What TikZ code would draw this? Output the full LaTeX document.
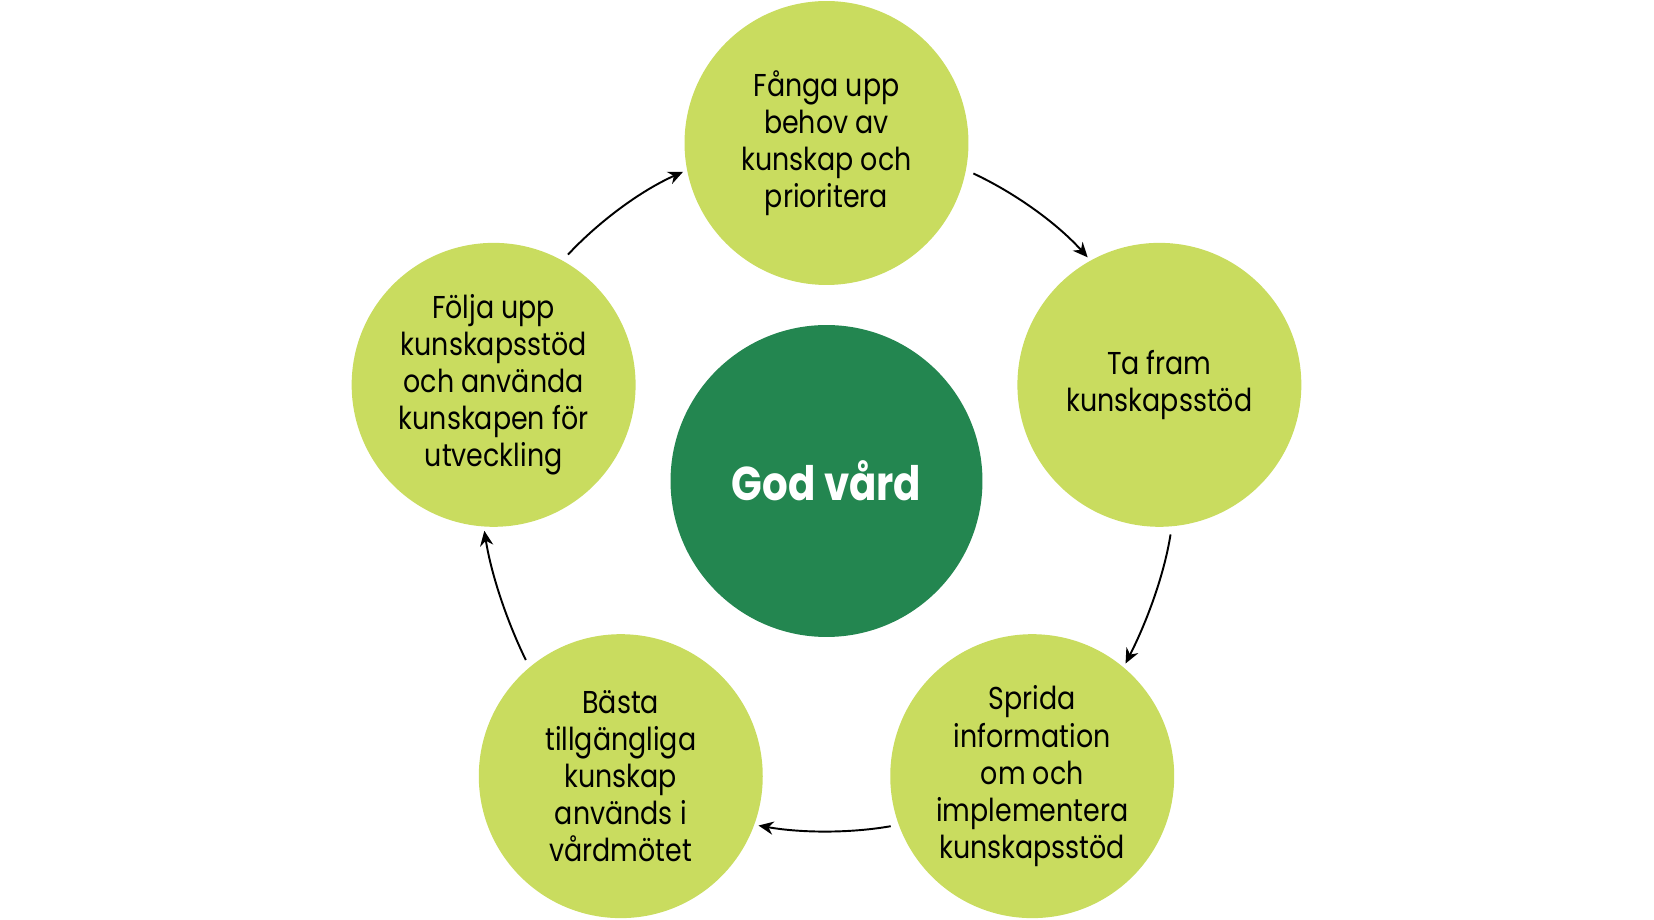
\documentclass[tikz,border=0pt]{standalone}
\usepackage{fontspec}
\setmainfont{Poppins}[FakeStretch=0.85]
\usetikzlibrary{arrows.meta,calc}
\definecolor{stepgreen}{HTML}{C9DC5F}
\definecolor{coregreen}{HTML}{238650}

\begin{document}
\begin{tikzpicture}[%
    x=0.02cm, y=0.02cm,
    >={Stealth[length=8.5pt,width=7.5pt]},
    shorten >=2.3pt,
    shorten <=4.5pt,
    looseness=0.86,
    stepnode/.style={circle, fill=stepgreen, minimum size=5.68cm, inner sep=0pt,
      align=center, font=\fontsize{18}{21.1}\selectfont},
    corenode/.style={circle, fill=coregreen, minimum size=6.24cm, inner sep=0pt,
      text=white, font=\bfseries\fontsize{27}{30}\selectfont},
  ]
    \useasboundingbox (0,0) rectangle (1654,920);
    \coordinate (c) at (826.5,427);

    \node[corenode] (vard) at (826.5,439) {God vård};
    \node[stepnode] (fanga)  at ($(c)+(90:350)$)   {Fånga upp\\behov av\\kunskap och\\prioritera};
    \node[stepnode] (tafram) at ($(c)+(18:350)$)   {Ta fram\\kunskapsstöd};
    \node[stepnode] (sprida) at ($(c)+(-54:350)$)  {Sprida\\information\\om och\\implementera\\kunskapsstöd};
    \node[stepnode] (basta)  at ($(c)+(-126:350)$) {Bästa\\tillgängliga\\kunskap\\används i\\vårdmötet};
    \node[stepnode] (folja)  at ($(c)+(162:350)$)  {Följa upp\\kunskapsstöd\\och använda\\kunskapen för\\utveckling};

    \path[->, line width=1.1pt]
    (fanga.-11)  edge [out=-25, in=132]  (tafram.119)
    (tafram.-85) edge [out=-99, in=63]   (sprida.50)
    (sprida.-160) edge [out=-170, in=-10] (basta.-20)
    (basta.130)  edge [out=116, in=-81]  (folja.-94)
    (folja.61)   edge [out=47, in=-156]  (fanga.-169)
    ;
  \end{tikzpicture}
\end{document}
